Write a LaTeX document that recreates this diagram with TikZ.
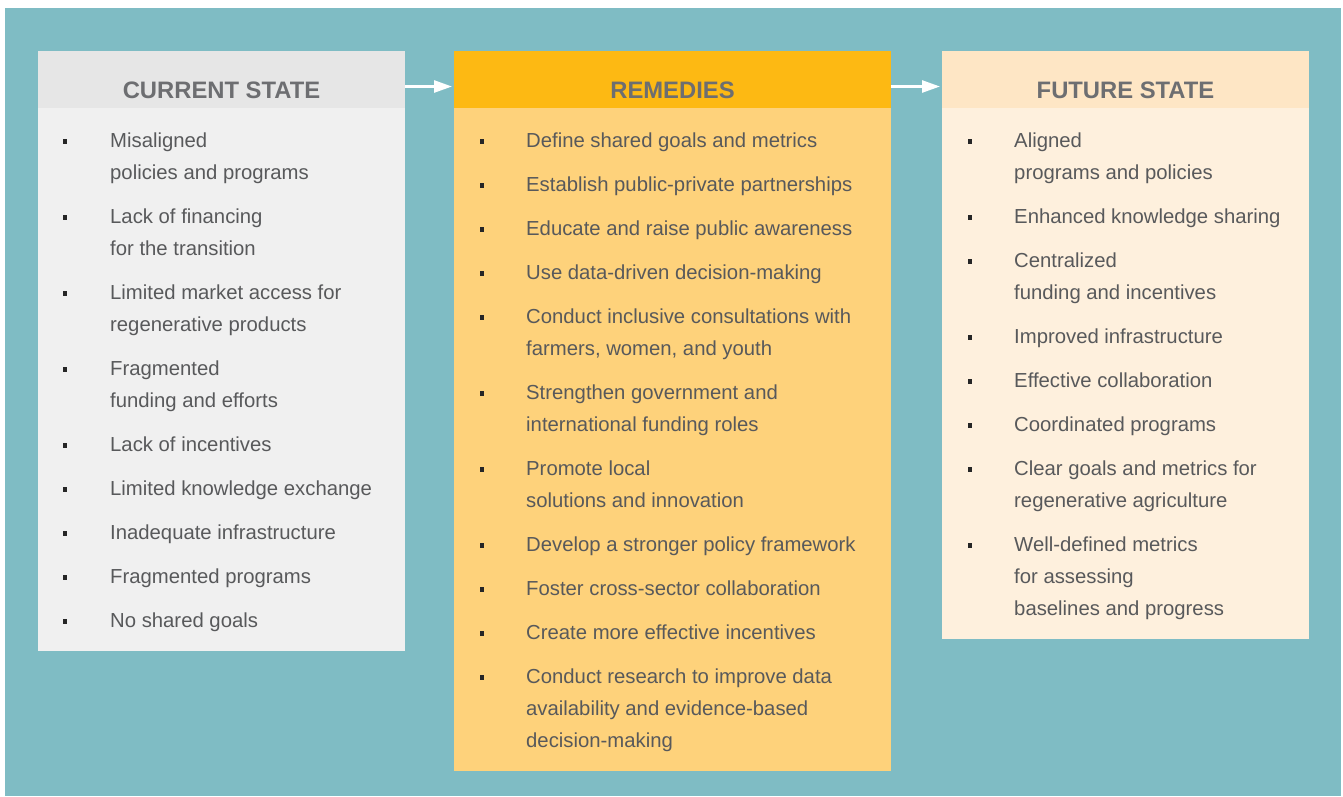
\documentclass[tikz,border=0pt]{standalone}
\usepackage{fontspec}
\setmainfont{Liberation Sans}
\usetikzlibrary{arrows.meta}
\definecolor{teal}{HTML}{7FBCC4}
\definecolor{curhd}{HTML}{E6E6E6}
\definecolor{curbd}{HTML}{F0F0F0}
\definecolor{remhd}{HTML}{FDB913}
\definecolor{rembd}{HTML}{FED27B}
\definecolor{futhd}{HTML}{FEE6C5}
\definecolor{futbd}{HTML}{FEF0DD}
\definecolor{titlec}{HTML}{6D6E71}
\definecolor{textc}{HTML}{58595B}
\tikzset{
  panel/.style={draw=none, inner sep=0pt, outer sep=0pt, anchor=north west},
  titletxt/.style={anchor=base, inner sep=0pt, text=titlec, font=\fontsize{23.8}{28}\selectfont\bfseries},
  itemtxt/.style={anchor=base west, inner sep=0pt, text=textc, align=left, font=\fontsize{20.3}{32}\selectfont},
  bulletsq/.style={fill=black!85, inner sep=0pt, minimum size=4.5pt, draw=none},
  flowarrow/.style={draw=white, line width=2.6pt, -{Triangle[length=18pt,width=12pt]}, shorten >=2pt}
}
% #1 name, #2 bullet x, #3 text x, #4 first baseline, #5 number of lines, #6 text
\newcommand\listentry[6]{%
  \node[bulletsq] (#1b) at (#2,#4-5.3) {};
  \node[itemtxt] (#1) at (#3,#4+32*#5-32) {#6};
}
\begin{document}
\begin{tikzpicture}[x=1pt,y=-1pt]
\useasboundingbox (0,0) rectangle (1343,796);
\fill[white] (0,0) rectangle (1343,796);
\fill[teal] (5,8) rectangle (1341,796);
% panels
\node[panel, fill=curbd, minimum width=367pt, minimum height=543pt] (curbody) at (38,108) {};
\node[panel, fill=curhd, minimum width=367pt, minimum height=57pt] (curhead) at (38,51) {};
\node[panel, fill=rembd, minimum width=437pt, minimum height=663pt] (rembody) at (454,108) {};
\node[panel, fill=remhd, minimum width=437pt, minimum height=57pt] (remhead) at (454,51) {};
\node[panel, fill=futbd, minimum width=367pt, minimum height=531pt] (futbody) at (942,108) {};
\node[panel, fill=futhd, minimum width=367pt, minimum height=57pt] (futhead) at (942,51) {};
% titles
\node[titletxt] (curtitle) at (221.5,98) {CURRENT STATE};
\node[titletxt] (remtitle) at (672.5,98) {REMEDIES};
\node[titletxt] (futtitle) at (1125.5,98) {FUTURE STATE};
% arrows
\draw[flowarrow] ([yshift=-7pt]curhead.east) -- ([yshift=-7pt]remhead.west);
\draw[flowarrow] ([yshift=-7pt]remhead.east) -- ([yshift=-7pt]futhead.west);
% current state
\listentry{c1}{65}{110}{147}{2}{Misaligned\\policies and programs}
\listentry{c2}{65}{110}{223}{2}{Lack of financing\\for the transition}
\listentry{c3}{65}{110}{299}{2}{Limited market access for\\regenerative products}
\listentry{c4}{65}{110}{375}{2}{Fragmented\\funding and efforts}
\listentry{c5}{65}{110}{451}{1}{Lack of incentives}
\listentry{c6}{65}{110}{495}{1}{Limited knowledge exchange}
\listentry{c7}{65}{110}{539}{1}{Inadequate infrastructure}
\listentry{c8}{65}{110}{583}{1}{Fragmented programs}
\listentry{c9}{65}{110}{627}{1}{No shared goals}
% remedies
\listentry{r1}{482}{526}{147}{1}{Define shared goals and metrics}
\listentry{r2}{482}{526}{191}{1}{Establish public-private partnerships}
\listentry{r3}{482}{526}{235}{1}{Educate and raise public awareness}
\listentry{r4}{482}{526}{279}{1}{Use data-driven decision-making}
\listentry{r5}{482}{526}{323}{2}{Conduct inclusive consultations with\\farmers, women, and youth}
\listentry{r6}{482}{526}{399}{2}{Strengthen government and\\international funding roles}
\listentry{r7}{482}{526}{475}{2}{Promote local\\solutions and innovation}
\listentry{r8}{482}{526}{551}{1}{Develop a stronger policy framework}
\listentry{r9}{482}{526}{595}{1}{Foster cross-sector collaboration}
\listentry{r10}{482}{526}{639}{1}{Create more effective incentives}
\listentry{r11}{482}{526}{683}{3}{Conduct research to improve data\\availability and evidence-based\\decision-making}
% future state
\listentry{f1}{970}{1014}{147}{2}{Aligned\\programs and policies}
\listentry{f2}{970}{1014}{223}{1}{Enhanced knowledge sharing}
\listentry{f3}{970}{1014}{267}{2}{Centralized\\funding and incentives}
\listentry{f4}{970}{1014}{343}{1}{Improved infrastructure}
\listentry{f5}{970}{1014}{387}{1}{Effective collaboration}
\listentry{f6}{970}{1014}{431}{1}{Coordinated programs}
\listentry{f7}{970}{1014}{475}{2}{Clear goals and metrics for\\regenerative agriculture}
\listentry{f8}{970}{1014}{551}{3}{Well-defined metrics\\for assessing\\baselines and progress}
\end{tikzpicture}
\end{document}
